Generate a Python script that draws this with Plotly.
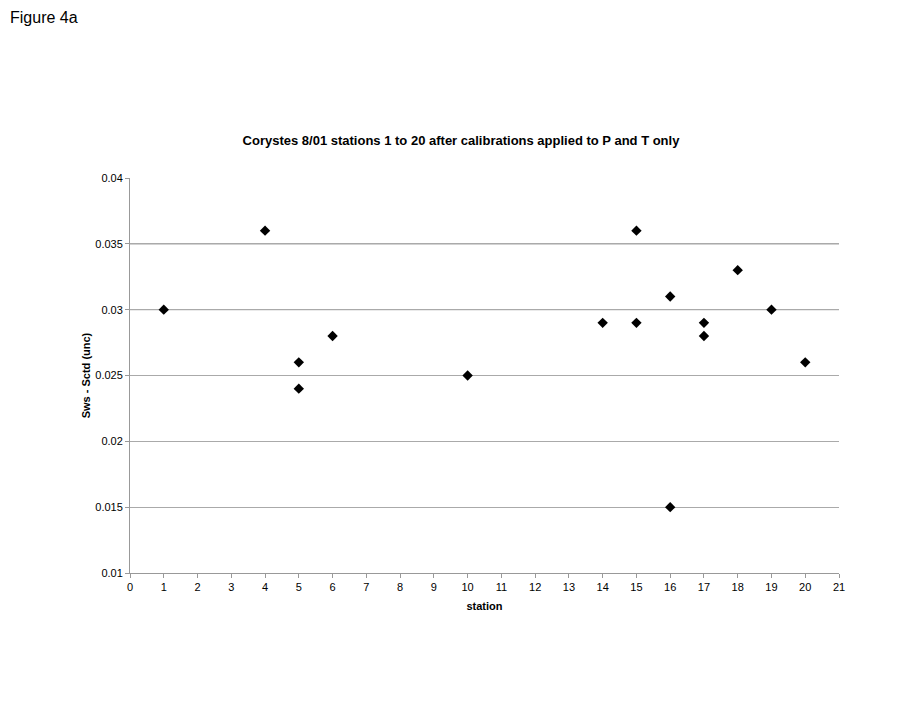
import plotly.graph_objects as go

station = [1, 4, 5, 5, 6, 10, 14, 15, 15, 16, 16, 17, 17, 18, 19, 20]
sws_minus_sctd = [0.030, 0.036, 0.026, 0.024, 0.028, 0.025, 0.029, 0.036, 0.029,
                  0.031, 0.015, 0.029, 0.028, 0.033, 0.030, 0.026]
y_ticks = [0.01, 0.015, 0.02, 0.025, 0.03, 0.035, 0.04]
y_tick_labels = ["0.01", "0.015", "0.02", "0.025", "0.03", "0.035", "0.04"]
x_ticks = list(range(0, 22))

FONT = "Liberation Sans, Arial, sans-serif"
L, R, T, B = 122, 85, 170, 141
W, H = 916, 706
PW, PH = W - L - R, H - T - B

fig = go.Figure()
fig.add_trace(go.Scatter(
    x=station, y=sws_minus_sctd, mode="markers",
    marker=dict(symbol="diamond", size=8, color="black"),
    showlegend=False, cliponaxis=False,
))

for yv in [0.03, 0.035]:
    fig.add_shape(type="line", xref="paper", x0=0, x1=1, yref="y", y0=yv, y1=yv,
                  line=dict(color="#777777", width=1), layer="below")

fig.update_layout(
    width=W, height=H,
    paper_bgcolor="white", plot_bgcolor="white",
    margin=dict(l=L, r=R, t=T, b=B),
    font=dict(family=FONT, size=11, color="black"),
    title=dict(text="<b>Corystes 8/01 stations 1 to 20 after calibrations applied to P and T only</b>",
               x=(453 - L) / PW, xref="paper", xanchor="center", y=1 - 132 / H, yanchor="middle",
               font=dict(family=FONT, size=13, color="black")),
    annotations=[dict(text="Figure 4a", xref="paper", yref="paper", x=-L / PW, y=1 + (T - 9) / PH,
                      xanchor="left", yanchor="middle", showarrow=False,
                      font=dict(family=FONT, size=16, color="black"))],
)
fig.update_xaxes(
    range=[0, 21], tickvals=x_ticks, ticktext=[str(v) for v in x_ticks],
    showgrid=False, zeroline=False, showline=True, linecolor="#999999", linewidth=1,
    ticks="outside", ticklen=4, tickcolor="#999999",
    title=dict(text="<b>station</b>", font=dict(family=FONT, size=11), standoff=10),
    tickfont=dict(family=FONT, size=11),
)
fig.update_yaxes(
    range=[0.01, 0.04], tickvals=y_ticks, ticktext=y_tick_labels,
    showgrid=True, gridcolor="#aaaaaa", gridwidth=1, zeroline=False,
    showline=True, linecolor="#999999", linewidth=1,
    ticks="outside", ticklen=4, tickcolor="#999999",
    title=dict(text="<b>Sws - Sctd (unc)</b>", font=dict(family=FONT, size=11), standoff=2),
    tickfont=dict(family=FONT, size=11),
)

fig.write_html("out.html")
